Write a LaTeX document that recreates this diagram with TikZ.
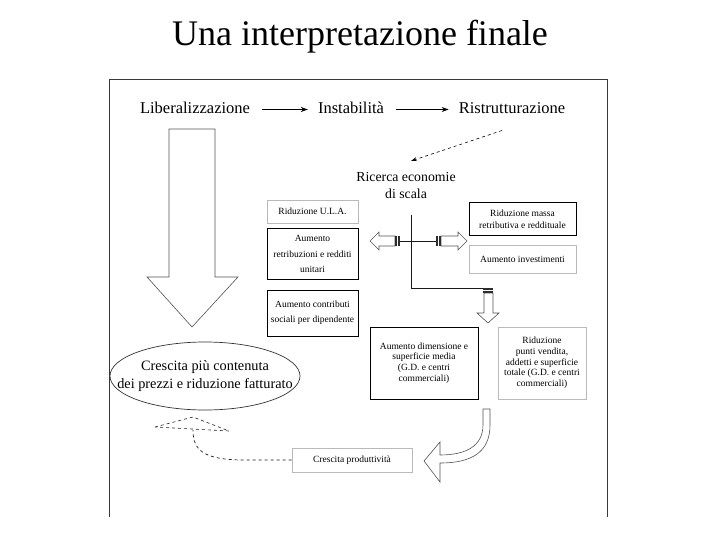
\documentclass[tikz,border=0pt]{standalone}
\usepackage{fontspec}
\setmainfont{Liberation Serif}
\usetikzlibrary{shapes.geometric,arrows.meta,calc}
\begin{document}
\begin{tikzpicture}[x=1pt,y=-1pt,
  big/.style={font=\fontsize{16.5}{18}\selectfont, inner sep=2pt, text height=12pt, text depth=3pt},
  boxk/.style={draw=black, line width=1pt, align=center, inner sep=1pt, font=\fontsize{9.5}{11}\selectfont},
  boxg/.style={draw=gray!55, line width=0.8pt, align=center, inner sep=1pt, font=\fontsize{9.5}{11}\selectfont},
  flow/.style={-{Stealth[length=7pt,width=5pt]}, line width=1.1pt},
  hollow/.style={draw=gray!65!black, line width=0.6pt, fill=white, line join=miter},
  bars/.style={fill=gray!35!black},
  thinline/.style={line width=0.7pt, draw=gray!20!black}
]
\useasboundingbox (0,0) rectangle (720,540);
\node[font=\fontsize{36}{40}\selectfont] (title) at (360,37) {Una interpretazione finale};
% frame
\draw[gray!45!black, line width=0.9pt] (109,517) -- (109,79) -- (607,79) -- (607,517);

% top row
\node[big] (lib) at (195,109.5) {Liberalizzazione};
\node[big] (inst) at (351,109.5) {Instabilità};
\node[big] (ristr) at (512,109.5) {Ristrutturazione};
\draw[flow, shorten <=10pt, shorten >=8pt] (lib) -- (inst);
\draw[flow, shorten <=10pt, shorten >=8pt] (inst) -- (ristr);

\node[font=\fontsize{13.8}{17}\selectfont, align=center] (ric) at (406,185) {Ricerca economie\\di scala};
\draw[dashed, line width=0.6pt, -{Stealth[length=6pt,width=4pt]}] ([shift={(-10,21)}]ristr.center) -- ([shift={(5,-24)}]ric.center);

% big hollow arrow down
\draw[hollow] (169,129) -- (215,129) -- (215,277) -- (238,277) -- (192,327) -- (147,277) -- (169,277) -- cycle;

% ellipse
\node[font=\fontsize{14.3}{18}\selectfont, align=center, inner sep=0pt] (ell) at (205,376) {Crescita più contenuta\\dei prezzi e riduzione fatturato};
\draw[gray!40!black, line width=0.7pt] (ell.center) ellipse [x radius=95, y radius=34];

% boxes
\node[boxg, minimum width=91pt, minimum height=23pt] (ula) at (312.5,211.5) {Riduzione U.L.A.};
\node[boxk, minimum width=91pt, minimum height=50pt, font=\fontsize{9.5}{15.5}\selectfont] (aret) at (312.5,254) {Aumento\\retribuzioni e redditi\\unitari};
\node[boxk, minimum width=91pt, minimum height=46pt, font=\fontsize{9.5}{15}\selectfont] (acon) at (312.5,313) {Aumento contributi\\sociali per dipendente};
\node[boxk, minimum width=107pt, minimum height=32pt, font=\fontsize{9.5}{12}\selectfont] (rmassa) at (522.5,219) {Riduzione massa\\retributiva e reddituale};
\node[boxg, minimum width=107pt, minimum height=28pt] (ainv) at (522.5,259) {Aumento investimenti};
\node[boxk, minimum width=108pt, minimum height=72pt, font=\fontsize{9.5}{10.7}\selectfont] (adim) at (424,363) {Aumento dimensione e\\superficie media\\(G.D. e centri\\commerciali)};
\node[boxg, minimum width=88pt, minimum height=72pt, font=\fontsize{9.5}{10.7}\selectfont] (rpunti) at (542,363) {Riduzione\\punti vendita,\\addetti e superficie\\totale (G.D. e centri\\commerciali)};
\node[boxg, minimum width=120pt, minimum height=24pt] (cprod) at (352,460) {Crescita produttività};

% hub lines
\coordinate (hub) at (411,241);
\coordinate (corner) at (411,288);
\coordinate (lbar) at (400,241);
\coordinate (rbar) at (436,241);
\coordinate (dbar) at (483,288);
\draw[thinline] ([shift={(5,30)}]ric.center) -- (corner) -- (dbar);
\draw[thinline] (lbar) -- (rbar);

% left striped arrow
\draw[hollow] (370,241) -- (379,232) -- (379,236) -- (395,236) -- (395,246) -- (379,246) -- (379,250) -- cycle;
\fill[bars] (395,236) rectangle (396.8,246);
\fill[bars] (398,236) rectangle (400,246);
% right striped arrow
\draw[hollow] (467,241) -- (458,232) -- (458,236) -- (441,236) -- (441,246) -- (458,246) -- (458,250) -- cycle;
\fill[bars] (436,236) rectangle (438,246);
\fill[bars] (439.2,236) rectangle (441,246);
% down striped arrow
\draw[hollow] (488,323) -- (477,313) -- (484,313) -- (484,293) -- (493,293) -- (493,313) -- (499,313) -- cycle;
\fill[bars] (483,288) rectangle (493,289.8);
\fill[bars] (483,291) rectangle (493,293);

% curved hollow arrow
\draw[hollow] (483,409) -- (490,409) -- (490,425) .. controls (490,452) and (472,463) .. (440,463) -- (440,482) -- (424,461) -- (440,442) -- (440,455) .. controls (466,455) and (483,446) .. (483,425) -- cycle;

% dashed triangle and curve
\coordinate (tri) at (193,430);
\draw[dashed, gray!25!black, line width=0.6pt] (155,427) -- (193,417) -- (229,431) -- cycle;
\draw[dashed, gray!20!black, line width=0.7pt] (cprod.west) -- (240,460) .. controls (203,459) and (193,450) .. (tri);
\end{tikzpicture}
\end{document}
